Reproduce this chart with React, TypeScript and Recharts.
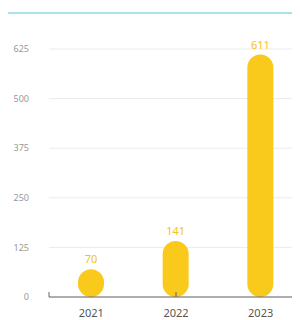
import { BarChart, Bar, XAxis, YAxis, CartesianGrid, LabelList } from 'recharts';

const years = ['2021', '2022', '2023'];
const values = [70, 141, 611];
const yTicks = [0, 125, 250, 375, 500, 625];
const bounds = [0, 1, 2, 3];

const data = years.map((year, i) => ({ year, value: values[i] }));

export default function App() {
  return (
    <div style={{ width: 300, fontFamily: '"Noto Sans", sans-serif' }}>
      <div style={{ height: 4, borderBottom: '2px solid #a9e2e8' }} />
      <BarChart width={300} height={306} data={data} margin={{ top: 35, right: 5, bottom: 0, left: 0 }}>
        <CartesianGrid vertical={false} stroke="#ebebeb" />
        <XAxis
          dataKey="year"
          height={23}
          tickLine={false}
          axisLine={{ stroke: '#666' }}
          tick={{ fill: '#555', fontSize: 11 }}
          tickMargin={6}
        />
        <XAxis
          xAxisId="b"
          type="number"
          domain={[0, 3]}
          ticks={bounds}
          mirror
          axisLine={false}
          tickSize={5}
          tickLine={{ stroke: '#666' }}
          tickFormatter={() => ''}
        />
        <YAxis
          width={41}
          domain={[0, 625]}
          ticks={yTicks}
          axisLine={false}
          tickLine={false}
          tickSize={0}
          tickMargin={20}
          tick={{ fill: '#999', fontSize: 9 }}
        />
        <Bar dataKey="value" fill="#f9c91c" barSize={26} radius={13} isAnimationActive={false}>
          <LabelList dataKey="value" position="top" offset={6} fill="#f2c21a" fontSize={11} />
        </Bar>
      </BarChart>
    </div>
  );
}
